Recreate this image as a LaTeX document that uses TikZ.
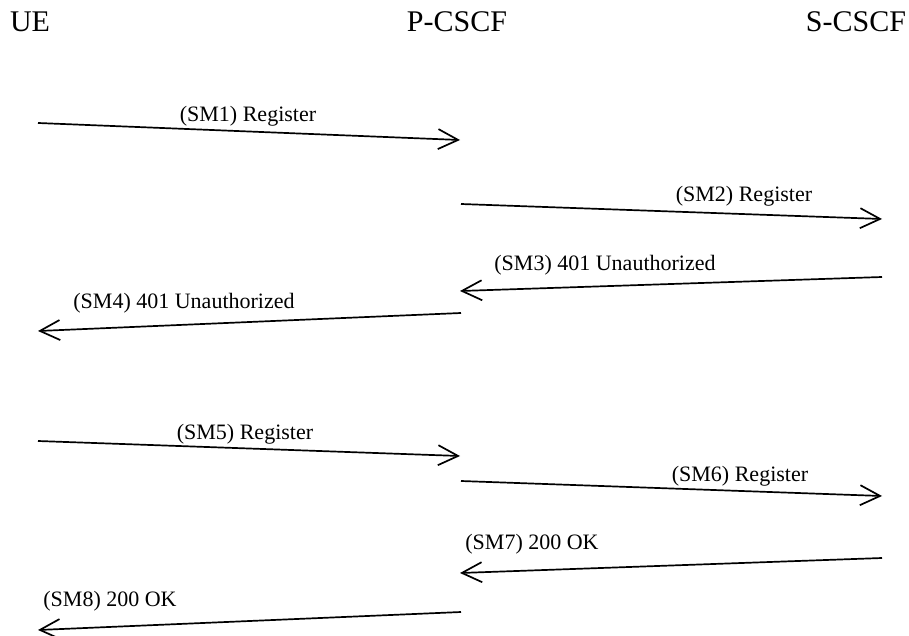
\documentclass[tikz,border=0pt]{standalone}
\usepackage{fontspec}
\setmainfont{Liberation Serif}
\usetikzlibrary{arrows.meta,positioning}

\begin{document}
\begin{tikzpicture}[x=1pt,y=-1pt,
    actor/.style={font=\fontsize{30}{30}\selectfont, inner sep=0pt, anchor=base},
    msglabel/.style={font=\fontsize{22}{22}\selectfont, inner sep=0pt, anchor=base},
    msg/.style={line width=1.7pt, -{Straight Barb[length=20pt,width=20pt,line width=1.7pt]}}]
\useasboundingbox (0,0) rectangle (909,636);

% Header row for the three entities
\node[actor] (ue) at (30,32) {UE};
\node[actor] (pcscf) at (457,32) {P-CSCF};
\node[actor] (scscf) at (856,32) {S-CSCF};

% End points of the messages
\foreach \name/\x/\y in {a1/38/123, b1/460/140, a2/461/204, b2/882/219,
    a3/882/277, b3/460/291, a4/461/313, b4/38/331,
    a5/38/441, b5/460/456, a6/461/481, b6/882/496,
    a7/882/558, b7/460/573, a8/461/612, b8/38/630} {
    \coordinate (\name) at (\x,\y);
}

% Messages
\foreach \i in {1,...,8} {
    \draw[msg] (a\i) -- (b\i);
}

% Message labels
\node[msglabel] (sm1) at (248,122) {(SM1) Register};
\node[msglabel] (sm2) at (744,202) {(SM2) Register};
\node[msglabel] (sm3) at (605,270) {(SM3) 401 Unauthorized};
\node[msglabel] (sm4) at (184,308) {(SM4) 401 Unauthorized};
\node[msglabel] (sm5) at (245,439) {(SM5) Register};
\node[msglabel] (sm6) at (740,481) {(SM6) Register};
\node[msglabel] (sm7) at (532,549) {(SM7) 200 OK};
\node[msglabel] (sm8) at (110,606) {(SM8) 200 OK};

\end{tikzpicture}
\end{document}
